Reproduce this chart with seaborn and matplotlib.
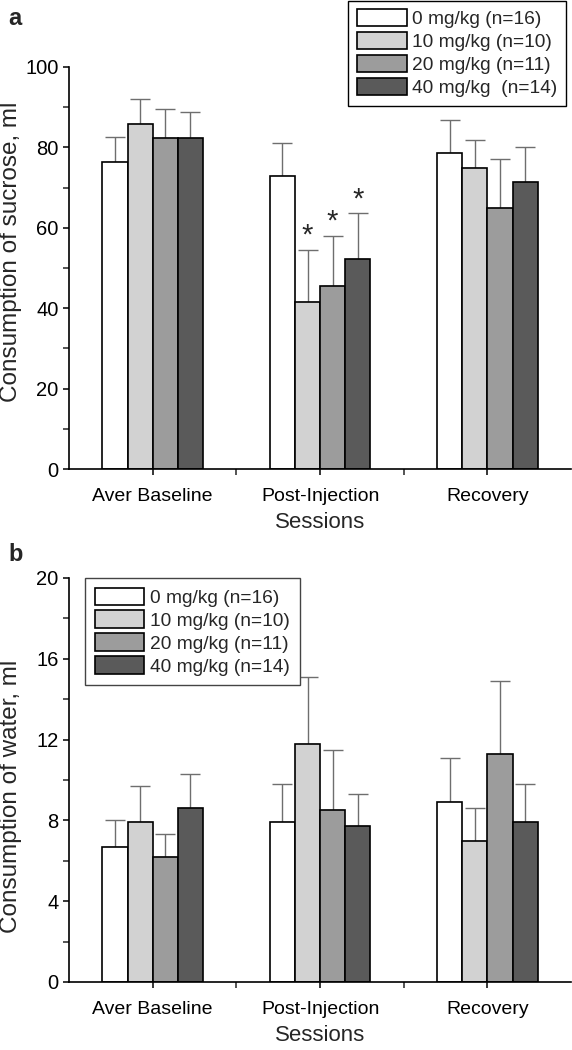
import numpy as np
import pandas as pd
import matplotlib.pyplot as plt
import seaborn as sns
from matplotlib.ticker import MultipleLocator

# Data
sessions = ['Aver Baseline', 'Post-Injection', 'Recovery']
doses_a = ['0 mg/kg (n=16)', '10 mg/kg (n=10)', '20 mg/kg (n=11)', '40 mg/kg  (n=14)']
doses_b = ['0 mg/kg (n=16)', '10 mg/kg (n=10)', '20 mg/kg (n=11)', '40 mg/kg (n=14)']
bar_colors = ['#ffffff', '#d2d2d2', '#9c9c9c', '#5a5a5a']

# panel a: sucrose (rows = dose, cols = session)
sucrose_mean = [[76.4, 72.9, 78.5],
                [85.9, 41.5, 74.9],
                [82.4, 45.6, 64.9],
                [82.4, 52.2, 71.4]]
sucrose_err = [[6.2, 8.1, 8.3],
               [6.1, 13.1, 7.0],
               [7.2, 12.4, 12.3],
               [6.4, 11.4, 8.6]]
sucrose_sig = [[False, False, False],
               [False, True, False],
               [False, True, False],
               [False, True, False]]

# panel b: water
water_mean = [[6.7, 7.9, 8.9],
              [7.9, 11.8, 7.0],
              [6.2, 8.5, 11.3],
              [8.6, 7.7, 7.9]]
water_err = [[1.3, 1.9, 2.2],
             [1.8, 3.3, 1.6],
             [1.1, 3.0, 3.6],
             [1.7, 1.6, 1.9]]

sns.set_style('ticks')
plt.rcParams['font.family'] = ['Liberation Sans', 'DejaVu Sans']


def long_table(means, errs, labels):
    rows = []
    for d, lab in enumerate(labels):
        for s, sess in enumerate(sessions):
            rows.append({'session': sess, 'dose': lab,
                         'value': means[d][s], 'err': errs[d][s]})
    return pd.DataFrame(rows)


def draw_panel(ax, means, errs, labels, ylim, major, minor, ylabel, ylab_y, sig=None):
    df = long_table(means, errs, labels)
    sns.barplot(data=df, x='session', y='value', hue='dose', hue_order=labels,
                palette=bar_colors, width=0.6, edgecolor='black', linewidth=1.2,
                errorbar=None, saturation=1, legend=False, ax=ax)
    bar_conts = list(ax.containers)
    for d, cont in enumerate(bar_conts):
        xs = [b.get_x() + b.get_width() / 2 for b in cont]
        hs = [b.get_height() for b in cont]
        ax.errorbar(xs, hs, yerr=[[0] * len(hs), errs[d]], fmt='none',
                    ecolor='#6e6e6e', elinewidth=1.0, capsize=7, capthick=1.0,
                    zorder=0.5)
        if sig is not None:
            for s in range(len(hs)):
                if sig[d][s]:
                    ax.annotate('*', (xs[s], hs[s] + errs[d][s]),
                                xytext=(0, 0), textcoords='offset points',
                                ha='center', va='bottom', fontsize=21)
    ax.set_xlim(-0.5, 2.5)
    ax.set_ylim(*ylim)
    ax.yaxis.set_major_locator(MultipleLocator(major))
    ax.yaxis.set_minor_locator(MultipleLocator(minor))
    ax.set_xticks([0.5, 1.5], minor=True)
    ax.tick_params(axis='both', which='major', direction='out', length=4,
                   width=1.1, labelsize=14, colors='black')
    ax.tick_params(axis='y', which='major', labelsize=14.5)
    ax.tick_params(axis='both', which='minor', direction='out', length=4,
                   width=1.1)
    ax.tick_params(axis='x', pad=10)
    ax.set_ylabel(ylabel, fontsize=17.5)
    ax.yaxis.set_label_coords(-0.094, ylab_y)
    ax.set_xlabel('Sessions', fontsize=16, labelpad=5)
    sns.despine(ax=ax)
    for sp in ['left', 'bottom']:
        ax.spines[sp].set_linewidth(1.2)
        ax.spines[sp].set_color('black')
    return bar_conts


fig = plt.figure(figsize=(5.72, 10.5), dpi=100)
ax_a = fig.add_axes([0.1206, 0.5533, 0.878, 0.3829])
ax_b = fig.add_axes([0.1206, 0.0648, 0.878, 0.3848])

cont_a = draw_panel(ax_a, sucrose_mean, sucrose_err, doses_a, (0, 100), 20, 10,
                    'Consumption of sucrose, ml', 0.54, sig=sucrose_sig)
cont_b = draw_panel(ax_b, water_mean, water_err, doses_b, (0, 20), 4, 2,
                    'Consumption of water, ml', 0.46)

leg_a = ax_a.legend([c[0] for c in cont_a], doses_a, loc='upper right',
                    bbox_to_anchor=(0.99, 1.165), borderaxespad=0,
                    fontsize=13.8, frameon=True,
                    fancybox=False, edgecolor='black', framealpha=1,
                    handlelength=2.6, handleheight=1.0, handletextpad=0.3,
                    labelspacing=0.2, borderpad=0.45)
leg_a.get_frame().set_linewidth(1.0)

leg_b = ax_b.legend([c[0] for c in cont_b], doses_b, loc='upper left',
                    bbox_to_anchor=(0.032, 1.0), borderaxespad=0,
                    fontsize=13.8, frameon=True,
                    fancybox=False, edgecolor='#444444', framealpha=1,
                    handlelength=2.6, handleheight=1.0, handletextpad=0.3,
                    labelspacing=0.2, borderpad=0.5)
leg_b.get_frame().set_linewidth(1.0)

fig.text(0.014, 0.993, 'a', fontsize=17, fontweight='bold', va='top')
fig.text(0.014, 0.483, 'b', fontsize=17, fontweight='bold', va='top')

fig.savefig('out.png', dpi=100)
plt.close(fig)
